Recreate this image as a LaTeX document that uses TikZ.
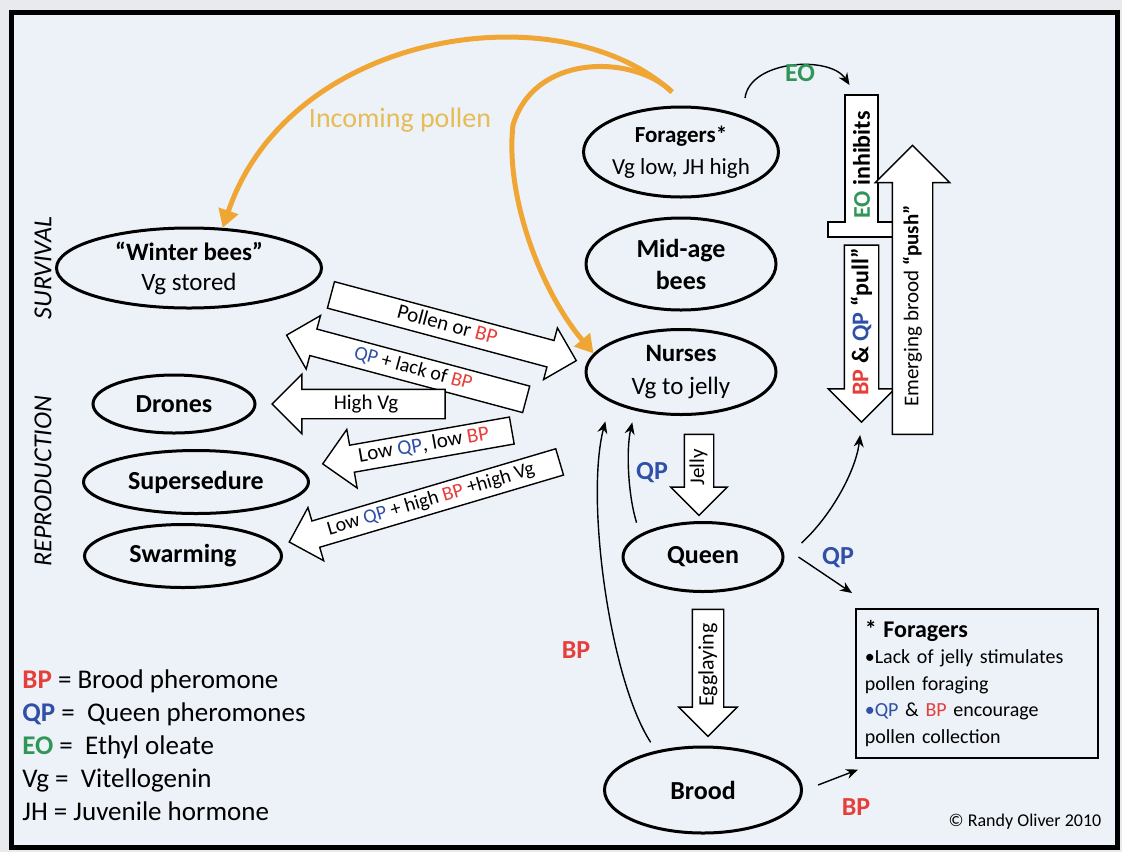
\documentclass[tikz,border=0pt]{standalone}
\usepackage{fontspec}
\setmainfont{Carlito}
\usepackage{tikz}
\usetikzlibrary{shapes.geometric,shapes.arrows,arrows.meta}
\definecolor{bpred}{RGB}{230,62,58}
\definecolor{qpblue}{RGB}{48,80,168}
\definecolor{eogreen}{RGB}{48,150,88}
\definecolor{pollen}{RGB}{240,166,52}
\definecolor{pollentext}{RGB}{230,188,86}
\definecolor{bgblue}{RGB}{237,242,248}
\definecolor{pagegray}{RGB}{232,234,238}
\newcommand{\BPtag}{{\color{bpred}BP}}
\newcommand{\QPtag}{{\color{qpblue}QP}}
\newcommand{\EOtag}{{\color{eogreen}EO}}
\tikzset{
    bee/.style = {ellipse, draw, line width=1.5pt, inner sep=0pt, align=center},
    blockarrow/.style = {single arrow, draw, fill=white, line width=0.7pt, inner xsep=3pt, inner ysep=1.5pt, single arrow head extend=7pt, text height=7.5pt, text depth=2.5pt, font=\fontsize{10.5}{12}\selectfont},
    pollenflow/.style = {draw=pollen, line width=2.5pt, -{Triangle[length=9pt,width=10pt]}},
    signal/.style = {draw, line width=0.7pt, -{Stealth[length=6pt,width=5pt]}},
    tag/.style = {font=\fontsize{13}{13}\selectfont\bfseries, inner sep=0pt},
}
\begin{document}
\begin{tikzpicture}[x=0.5pt, y=-0.5pt]
\useasboundingbox (0,0) rectangle (1122,852);
\fill[pagegray] (0,0) rectangle (1122,852);
\draw[line width=2.5pt, fill=bgblue] (11,12) rectangle (1117,847);

\node[bee, minimum width=95pt, minimum height=45pt, font=\fontsize{11.5}{16}\selectfont] (forag) at (681,152) {\textbf{Foragers*}\\Vg low, JH high};
\node[bee, minimum width=95pt, minimum height=46pt, font=\fontsize{13}{16}\selectfont\bfseries] (midage) at (681,264) {Mid-age\\bees};
\node[bee, minimum width=95pt, minimum height=42.5pt, font=\fontsize{12.5}{16.5}\selectfont] (nurses) at (681,372) {\textbf{Nurses}\\Vg to jelly};
\node[bee, minimum width=132.5pt, minimum height=40pt, font=\fontsize{12.5}{15}\selectfont] (winter) at (189,268) {\textbf{“Winter bees”}\\Vg stored};
\node[bee, minimum width=81pt, minimum height=29pt, font=\fontsize{13}{13}\selectfont\bfseries] (drones) at (174,404) {Drones};
\node[bee, minimum width=112.5pt, minimum height=31.5pt, font=\fontsize{13}{13}\selectfont\bfseries] (superse) at (196,482) {Supersedure};
\node[bee, minimum width=98.5pt, minimum height=31.5pt, font=\fontsize{13}{13}\selectfont\bfseries] (swarm) at (183,556) {Swarming};
\node[bee, minimum width=80pt, minimum height=34.5pt, font=\fontsize{13}{13}\selectfont\bfseries] (queen) at (703,557) {Queen};
\node[bee, minimum width=98.5pt, minimum height=43pt, font=\fontsize{13}{13}\selectfont\bfseries] (brood) at (703,790) {Brood};

\node[blockarrow, rotate=-15, minimum height=127pt, single arrow head extend=6.5pt] (pollenarr) at (447,326) {Pollen or \BPtag};
\node[blockarrow, rotate=-15, shape border rotate=180, minimum height=124pt, font=\fontsize{10}{12}\selectfont] (lackarr) at (413,369) {\QPtag\ + lack of \BPtag};
\node[blockarrow, shape border rotate=180, minimum height=86.5pt, inner ysep=2pt, single arrow head extend=7.5pt] (highvg) at (366,404) {High Vg};
\node[blockarrow, rotate=10, shape border rotate=180, minimum height=96pt, single arrow head extend=8pt] (lowqp) at (424,446) {Low \QPtag, low \BPtag};
\node[blockarrow, rotate=16.5, shape border rotate=180, minimum height=141pt, font=\fontsize{10}{12}\selectfont] (swarmarr) at (431,500) {Low \QPtag\ + high \BPtag\ +high Vg};

\node[blockarrow, rotate=90, shape border rotate=180, minimum height=40.5pt, single arrow head extend=6.75pt, font=\fontsize{10.5}{10.5}\selectfont, text height=7.5pt, text depth=2.5pt, inner ysep=2pt] (jelly) at (699,467.5) {Jelly};
\node[blockarrow, rotate=90, shape border rotate=180, minimum height=63.5pt, single arrow head extend=6.75pt, font=\fontsize{11}{11}\selectfont, text height=8pt, text depth=2.5pt, inner ysep=2.25pt] (egg) at (708,665) {Egglaying};

\draw[line width=0.7pt, fill=white] (845,95) -- (878,95) -- (878,222) -- (893,222) -- (893,237) -- (828,237) -- (828,222) -- (845,222) -- cycle;
\coordinate (eotop) at (861.5,95);
\node[rotate=90, font=\fontsize{12}{12}\selectfont\bfseries] (inhibit) at (861.5,165) {\EOtag\ inhibits};
\node[blockarrow, rotate=90, shape border rotate=180, minimum height=88.5pt, single arrow head extend=8pt, text height=12pt, text depth=0pt, inner ysep=2.25pt] (pull) at (861.5,325) {};
\node[rotate=90, font=\fontsize{12}{12}\selectfont\bfseries] (pulllabel) at (861.5,322) {\BPtag\ \& \QPtag\ “pull”};
\node[blockarrow, rotate=90, minimum height=144.5pt, single arrow head extend=8.5pt, text height=15pt, text depth=0pt, inner ysep=2.25pt] (push) at (912.5,300) {};
\node[rotate=90, font=\fontsize{10.5}{10.5}\selectfont] (pushlabel) at (912.5,306) {Emerging brood \textbf{“push”}};

\node[draw, line width=0.8pt, anchor=north west, text width=112pt, inner sep=4.5pt, align=left, minimum height=74.5pt, font=\fontsize{10}{13.25}\selectfont] (note) at (855,608) {{\fontsize{12}{13.25}\selectfont\textbf{* Foragers}}\\•Lack of jelly stimulates\\pollen foraging\\{\color{qpblue}•QP} \& \BPtag\ encourage\\pollen collection};

\coordinate (pollsrc) at (672,92);
\draw[pollenflow] (pollsrc) .. controls (560,-10) and (290,30) .. (winter.50);
\draw[pollenflow] (pollsrc) .. controls (635,55) and (535,52) .. (513,125) .. controls (505,195) and (540,290) .. (nurses.168);
\node[font=\fontsize{14}{14}\selectfont, text=pollentext] (pollenlabel) at (400,120) {Incoming pollen};

\coordinate (eostart) at (745,98);
\draw[signal] (eostart) .. controls (750,60) and (830,55) .. ([shift={(-12,-10)}]eotop);
\draw[signal, shorten <=6pt, shorten >=6pt] (queen.160) .. controls (628,495) and (626,450) .. (nurses.220);
\draw[signal, shorten <=5pt, shorten >=10pt] (brood.140) .. controls (610,680) and (585,500) .. (nurses.203);
\draw[signal, shorten >=6pt] ([shift={(17,-14)}]queen.east) .. controls (832,515) and (856,470) .. (pull.tip);
\draw[signal] ([shift={(14,0)}]queen.east) -- ([shift={(-3,-15)}]note.north west);
\draw[signal] ([shift={(15,-5)}]brood.east) -- ([shift={(3,11)}]note.south west);

\node[tag, text=eogreen] (eolabel) at (800,73) {EO};
\node[tag, text=qpblue] (qpnurse) at (652,473) {QP};
\node[tag, text=qpblue] (qpnote) at (838,558) {QP};
\node[tag, text=bpred] (bpnurse) at (576,650) {BP};
\node[tag, text=bpred] (bpnote) at (856,807) {BP};

\node[rotate=90, font=\fontsize{13}{13}\selectfont\itshape] (survival) at (43,268) {SURVIVAL};
\node[rotate=90, font=\fontsize{13}{13}\selectfont\itshape] (reprod) at (43,481) {REPRODUCTION};

\node[anchor=west, align=left, inner sep=0pt, font=\fontsize{13.5}{16.5}\selectfont] (legend) at (22,745) {\textbf{\BPtag} = Brood pheromone\\\textbf{\QPtag} = \ Queen pheromones\\\textbf{\EOtag} = \ Ethyl oleate\\Vg = \ Vitellogenin\\JH = Juvenile hormone};
\node[font=\fontsize{9}{9}\selectfont] (copyright) at (1025,822) {© Randy Oliver 2010};
\end{tikzpicture}
\end{document}
